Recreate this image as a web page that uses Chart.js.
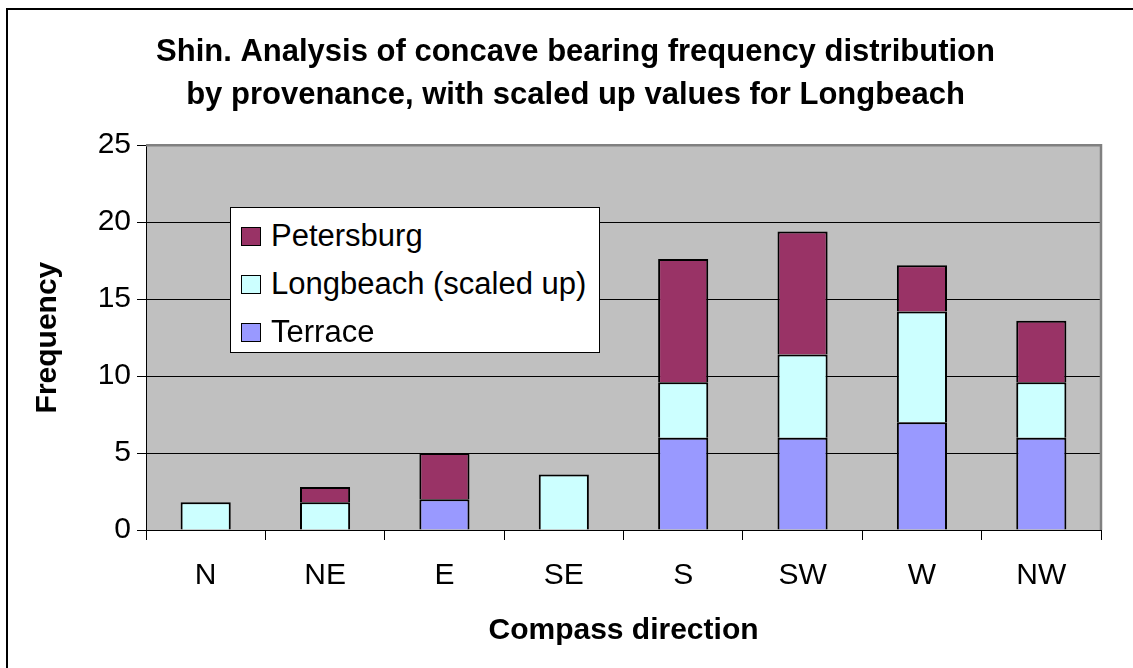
<!DOCTYPE html>
<html>
<head>
<meta charset="utf-8">
<script src="https://cdn.jsdelivr.net/npm/chart.js@4.4.0/dist/chart.umd.min.js"></script>
<style>
  body { margin: 0; background: #fff; }
  #wrap { position: relative; width: 1133px; height: 668px; overflow: hidden; }
  #frame { position: absolute; left: 6px; top: 8px; width: 1140px; height: 690px; border: 2.5px solid #000; }
  #c { position: absolute; left: 0; top: 0; }
  #legend { position: absolute; left: 230px; top: 207px; width: 370px; height: 146px; background: #fff;
    border: 1px solid #000; box-sizing: border-box; font-family: "Liberation Sans", Arial, sans-serif; font-size: 31px; color: #000; }
  .row { position: absolute; left: 10px; height: 48px; display: flex; align-items: center; white-space: nowrap; }
  .sw { width: 20px; height: 19px; border: 1px solid #000; box-sizing: border-box; margin-right: 10px; }
</style>
</head>
<body>
<div id="wrap">
  <div id="frame"></div>
  <canvas id="c" width="1133" height="668"></canvas>
  <div id="legend"></div>
</div>
<script>
const categories = ['N', 'NE', 'E', 'SE', 'S', 'SW', 'W', 'NW'];
const terrace = [null, null, 2, null, 6, 6, 7, 6];
const longbeach = [1.8, 1.8, null, 3.6, 3.6, 5.4, 7.2, 3.6];
const petersburg = [null, 1, 3, null, 8, 8, 3, 4];
const yTicks = [0, 5, 10, 15, 20, 25];

const FONT = '"Liberation Sans", Arial, sans-serif';
Chart.defaults.color = '#000';
Chart.defaults.font.family = FONT;

const series = [
  { label: 'Terrace', data: terrace, color: '#9999FF' },
  { label: 'Longbeach (scaled up)', data: longbeach, color: '#CCFFFF' },
  { label: 'Petersburg', data: petersburg, color: '#993366' }
];

// grey plot background + grey top/right edge
const plotBg = {
  id: 'plotBg',
  beforeDraw(chart) {
    const { ctx, chartArea: a } = chart;
    ctx.save();
    ctx.fillStyle = '#C0C0C0';
    ctx.fillRect(a.left, a.top, a.right - a.left, a.bottom - a.top);
    ctx.restore();
  },
  afterDraw(chart) {
    const { ctx, chartArea: a } = chart;
    ctx.save();
    ctx.strokeStyle = '#808080';
    ctx.lineWidth = 2.5;
    ctx.beginPath();
    ctx.moveTo(a.left, a.top);
    ctx.lineTo(a.right, a.top);
    ctx.lineTo(a.right, a.bottom);
    ctx.stroke();
    ctx.restore();
  }
};

new Chart(document.getElementById('c'), {
  type: 'bar',
  data: {
    labels: categories,
    datasets: series.map(s => ({
      label: s.label,
      data: s.data,
      backgroundColor: s.color,
      borderColor: '#000',
      borderWidth: { top: 2, bottom: 0, left: 2, right: 2 },
      borderSkipped: false,
      categoryPercentage: 1,
      barPercentage: 0.42
    }))
  },
  options: {
    responsive: false,
    animation: false,
    // left padding keeps the title centred where the original has it
    layout: { padding: { left: 50, right: 32, top: 0, bottom: 0 } },
    plugins: {
      legend: { display: false },
      tooltip: { enabled: false },
      title: {
        display: true,
        text: ['Shin. Analysis of concave bearing frequency distribution',
               'by provenance, with scaled up values for Longbeach'],
        font: { size: 31, weight: 'bold', lineHeight: 1.39 },
        color: '#000',
        padding: { top: 31, bottom: 28 }
      }
    },
    scales: {
      x: {
        stacked: true,
        afterFit: s => { s.height = 138; },
        grid: { drawOnChartArea: false, color: '#000', tickLength: 10, offset: true },
        border: { display: true, color: '#000', width: 1 },
        ticks: { font: { size: 30 }, padding: 18, color: '#000' },
        title: { display: true, text: 'Compass direction', font: { size: 30, weight: 'bold' }, padding: { top: 0, bottom: 19 }, color: '#000' }
      },
      y: {
        stacked: true,
        min: 0,
        max: 25,
        afterFit: s => { s.width = 96; },
        afterBuildTicks: s => { s.ticks = yTicks.map(v => ({ value: v })); },
        grid: { color: '#000', lineWidth: 1, tickLength: 9 },
        border: { display: true, color: '#000', width: 1 },
        ticks: { font: { size: 30 }, padding: 6, color: '#000' },
        title: { display: true, text: 'Frequency', font: { size: 30, weight: 'bold' }, padding: { top: -20, bottom: 0 }, color: '#000' }
      }
    }
  },
  plugins: [plotBg]
});

// legend box inside the plot, listed top to bottom like the stack
const legend = document.getElementById('legend');
series.slice().reverse().forEach((s, i) => {
  const row = document.createElement('div');
  row.className = 'row';
  row.style.top = (4 + i * 48) + 'px';
  row.innerHTML = `<span class="sw" style="background:${s.color}"></span><span>${s.label}</span>`;
  legend.appendChild(row);
});
</script>
</body>
</html>
